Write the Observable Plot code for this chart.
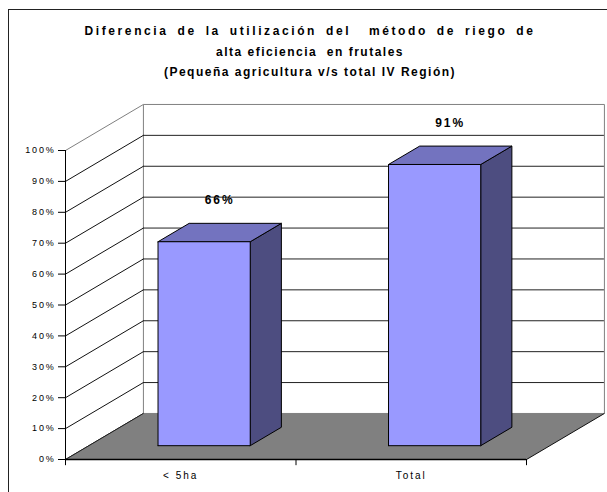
<!DOCTYPE html>
<html>
<head>
<meta charset="utf-8">
<script src="https://cdn.jsdelivr.net/npm/d3@7"></script>
<script src="https://cdn.jsdelivr.net/npm/@observablehq/plot@0.6"></script>
<style>
  html, body { margin: 0; padding: 0; background: #fff; }
  #wrap { position: relative; width: 607px; height: 492px; overflow: hidden; font-family: "Liberation Sans", Arial, sans-serif; }
  #border { position: absolute; left: 8px; top: 9px; width: 640px; height: 520px; border: 1px solid #222; }
  #title { position: absolute; left: 10px; width: 600px; top: 21px; text-align: center; font-weight: bold; font-size: 12px; line-height: 20.5px; letter-spacing: 1.5px; white-space: pre; color: #000; }
  #title .l1 { letter-spacing: 2.6px; word-spacing: 3px; }
  #chart { position: absolute; left: 0; top: 95px; }
  g[aria-label="y-axis tick label"] text { letter-spacing: 1.8px; }
  g[aria-label="text"] text { letter-spacing: 2px; }
</style>
</head>
<body>
<div id="wrap">
  <div id="border"></div>
  <div id="title"></div>
  <div id="chart"></div>
</div>
<script>
// ---- data ----
const titleLines = [
  "Diferencia de la utilización del  método de riego de",
  "alta eficiencia  en frutales",
  "(Pequeña agricultura v/s total IV Región)"
];
const categories = ["< 5ha", "Total"];
const values = [66, 91];
const valueLabels = ["66%", "91%"];
const yTicks = [0, 10, 20, 30, 40, 50, 60, 70, 80, 90, 100];

// ---- 3D geometry (data units) ----
const DX = 0.338;   // floor depth, in category units
const DY = 14.9;    // floor depth, in percent units
const half = 0.2;   // half bar width
const fD = 0.3, bD = 0.7; // bar front / back depth fractions

const titleEl = document.getElementById("title");
titleLines.forEach((t, i) => {
  const d = document.createElement("div");
  d.className = "l" + (i + 1);
  d.textContent = t;
  titleEl.appendChild(d);
});

const bars = categories.map((c, i) => ({c, i, v: values[i], label: valueLabels[i], cx: i + 0.5}));

function poly(id, pts) {
  const out = pts.map(([x, y]) => ({id, x, y}));
  out.push({id, x: pts[0][0], y: pts[0][1]});
  return out;
}

const fronts = bars.flatMap(b => poly("f" + b.i, [
  [b.cx - half + fD * DX, fD * DY], [b.cx + half + fD * DX, fD * DY],
  [b.cx + half + fD * DX, b.v + fD * DY], [b.cx - half + fD * DX, b.v + fD * DY]
]));
const tops = bars.flatMap(b => poly("t" + b.i, [
  [b.cx - half + fD * DX, b.v + fD * DY], [b.cx + half + fD * DX, b.v + fD * DY],
  [b.cx + half + bD * DX, b.v + bD * DY], [b.cx - half + bD * DX, b.v + bD * DY]
]));
const sides = bars.flatMap(b => poly("s" + b.i, [
  [b.cx + half + fD * DX, fD * DY], [b.cx + half + bD * DX, bD * DY],
  [b.cx + half + bD * DX, b.v + bD * DY], [b.cx + half + fD * DX, b.v + fD * DY]
]));

const n = categories.length;
const yMax = yTicks[yTicks.length - 1];
const backWall = poly("wall", [[DX, DY], [n + DX, DY], [n + DX, yMax + DY], [DX, yMax + DY]]);
const floor = poly("floor", [[0, 0], [DX, DY], [n + DX, DY], [n, 0]]);
const inner = yTicks.filter(t => t > 0 && t < yMax);
const diag = yTicks.filter(t => t < yMax);

const xs = d3.range(n + 1);

const chart = Plot.plot({
  width: 607,
  height: 397,
  marginLeft: 65,
  marginRight: 81,
  marginTop: 55,
  marginBottom: 33,
  x: {domain: [0, n], axis: null},
  y: {domain: [0, yMax], axis: null},
  style: {fontFamily: "'Liberation Sans', Arial, sans-serif", background: "transparent", overflow: "visible", color: "#000"},
  marks: [
    Plot.line(backWall, {x: "x", y: "y", z: "id", fill: "white", stroke: "#808080", strokeWidth: 1}),
    Plot.ruleY(inner, {y: d => d + DY, x1: DX, x2: n + DX, stroke: "#222", strokeWidth: 1}),
    Plot.link(diag, {x1: 0, y1: d => d, x2: DX, y2: d => d + DY, stroke: "#111", strokeWidth: 1}),
    Plot.link([yMax], {x1: 0, y1: d => d, x2: DX, y2: d => d + DY, stroke: "#808080", strokeWidth: 1}),
    Plot.line(floor, {x: "x", y: "y", z: "id", fill: "#808080", stroke: "none"}),
    Plot.link([0], {x1: 0, y1: 0, x2: DX, y2: DY, stroke: "#222", strokeWidth: 1}),
    Plot.link([0], {x1: n, y1: 0, x2: n + DX, y2: DY, stroke: "#111", strokeWidth: 1}),
    Plot.ruleX([0], {x: 0, y1: 0, y2: yMax, stroke: "#000", strokeWidth: 1}),
    Plot.ruleY([0], {y: 0, x1: 0, x2: n, stroke: "#000", strokeWidth: 1.6}),
    Plot.ruleX(xs, {x: d => d, y1: 0, y2: -2, stroke: "#000", strokeWidth: 1}),
    Plot.axisY(yTicks, {anchor: "left", label: null, tickSize: 7, tickPadding: 3, fontSize: 9, tickFormat: d => d + "%"}),
    Plot.text(bars, {x: "cx", y: 0, dy: 16, text: "c", fontSize: 10, fill: "#000"}),
    Plot.line(sides, {x: "x", y: "y", z: "id", fill: "#4D4D80", stroke: "#000", strokeWidth: 1, strokeLinejoin: "miter"}),
    Plot.line(tops, {x: "x", y: "y", z: "id", fill: "#7373BF", stroke: "#000", strokeWidth: 1, strokeLinejoin: "miter"}),
    Plot.line(fronts, {x: "x", y: "y", z: "id", fill: "#9999FF", stroke: "#000", strokeWidth: 1, strokeLinejoin: "miter"}),
    Plot.text(bars, {x: d => d.cx + (fD + bD) / 2 * DX, y: d => d.v + fD * DY + 13.3, text: "label", fontSize: 12, fontWeight: "bold", fill: "#000"})
  ]
});
document.getElementById("chart").appendChild(chart);
</script>
</body>
</html>
